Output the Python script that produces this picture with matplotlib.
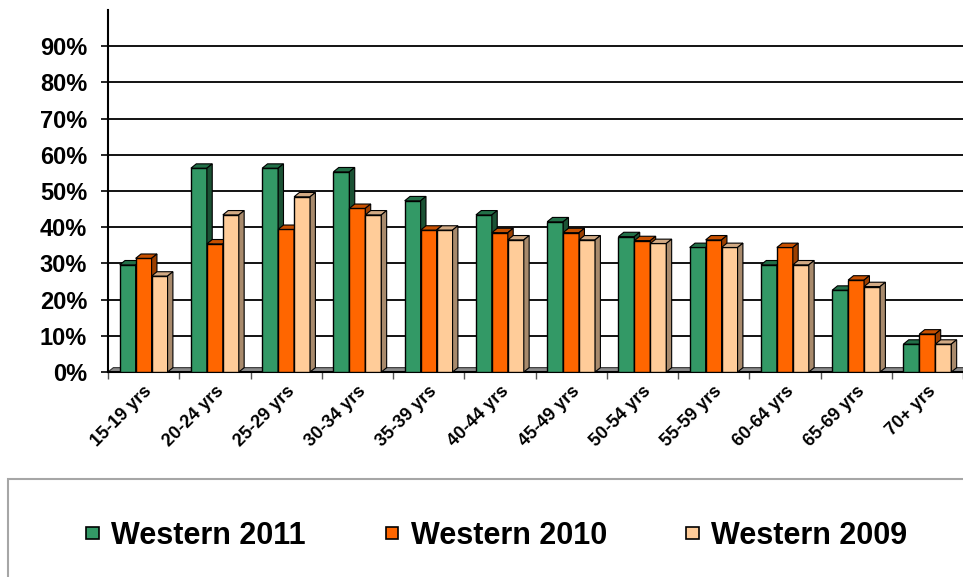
"""Western age-group bar chart, 2009-2011 (Excel-style 3D columns)."""
import matplotlib
matplotlib.use('Agg')
import matplotlib.pyplot as plt
import numpy as np
from matplotlib.patches import Polygon, Rectangle, Patch

plt.rcParams['font.family'] = ['Liberation Sans', 'DejaVu Sans']
plt.rcParams['font.weight'] = 'bold'

age_groups = ['15-19 yrs', '20-24 yrs', '25-29 yrs', '30-34 yrs', '35-39 yrs',
              '40-44 yrs', '45-49 yrs', '50-54 yrs', '55-59 yrs', '60-64 yrs',
              '65-69 yrs', '70+ yrs']
western_2011 = [29.6, 56.3, 56.3, 55.3, 47.3, 43.4, 41.5, 37.4, 34.4, 29.6, 22.6, 7.7]
western_2010 = [31.4, 35.4, 39.4, 45.2, 39.2, 38.5, 38.5, 36.3, 36.5, 34.4, 25.4, 10.5]
western_2009 = [26.5, 43.4, 48.4, 43.4, 39.2, 36.5, 36.5, 35.5, 34.4, 29.6, 23.6, 7.7]
series_names = ['Western 2011', 'Western 2010', 'Western 2009']
y_ticks = [0, 10, 20, 30, 40, 50, 60, 70, 80, 90]

# front / top / side colours
faces = [('#339966', '#227048', '#1b5234'),
         ('#ff6600', '#c85000', '#9c3f00'),
         ('#ffcc99', '#d2aa84', '#a88a6c')]

fig = plt.figure(figsize=(9.63, 5.77), dpi=100)
ax = fig.add_axes([108/963, 1 - 372/577, 1 - 108/963, 362/577])

n = len(age_groups)
centers = np.arange(n) + 0.5
w = 0.224
dx, dy = 0.075, 1.2

ax.set_xlim(0, n)
ax.set_ylim(0, 100)

# floor
ax.add_patch(Polygon([(0, 0), (n, 0), (n + dx, dy), (dx, dy)], closed=True,
                     facecolor='#8c8c8c', edgecolor='#333333', lw=0.8, zorder=2))

all_vals = [western_2011, western_2010, western_2009]
for i, (vals, (front, top, side)) in enumerate(zip(all_vals, faces)):
    z = 3 + i * 0.1
    xs = centers + (i - 1) * w
    ax.bar(xs, vals, w, color=front, edgecolor='black', linewidth=1.0, zorder=z)
    for x, v in zip(xs, vals):
        l, r = x - w / 2, x + w / 2
        ax.add_patch(Polygon([(l, v), (r, v), (r + dx, v + dy), (l + dx, v + dy)],
                             closed=True, facecolor=top, edgecolor='black',
                             lw=0.8, zorder=z))
        ax.add_patch(Polygon([(r, 0), (r + dx, dy), (r + dx, v + dy), (r, v)],
                             closed=True, facecolor=side, edgecolor='black',
                             lw=0.8, zorder=z))

# axes styling
for s in ['top', 'right']:
    ax.spines[s].set_visible(False)
ax.spines['left'].set_linewidth(1.5)
ax.spines['bottom'].set_linewidth(1.5)
ax.set_yticks(y_ticks)
ax.set_yticklabels([f'{t}%' for t in y_ticks], fontsize=17, fontweight='bold')
ax.tick_params(axis='y', length=5, width=1.2, pad=10)
ax.yaxis.grid(True, color='black', linewidth=1.3, zorder=1)
ax.set_axisbelow(True)

ax.set_xticks(np.arange(n + 1))
ax.set_xticklabels([])
ax.tick_params(axis='x', which='major', length=5, width=1.0, color='#555555')
ax.set_xticks(centers, minor=True)
ax.set_xticklabels(age_groups, minor=True, rotation=45, ha='right',
                   rotation_mode='anchor', fontsize=13, fontweight='bold')
ax.tick_params(axis='x', which='minor', length=0, pad=8)

# legend box
fig.add_artist(Rectangle((8/963, -0.05), 1.1, 0.05 + 1 - 479/577,
                         transform=fig.transFigure, facecolor='none',
                         edgecolor='#a6a6a6', lw=1.5))
handles = [Patch(facecolor=f[0], edgecolor='black', lw=1.2) for f in faces]
fig.legend(handles, series_names, loc='center', bbox_to_anchor=(0.516, 1 - 536/577),
           ncol=3, frameon=False, prop={'size': 22, 'weight': 'bold'},
           handlelength=0.42, handleheight=0.23, handletextpad=0.4,
           columnspacing=2.6)

fig.savefig('out.png', dpi=100, facecolor='white')
plt.close(fig)
